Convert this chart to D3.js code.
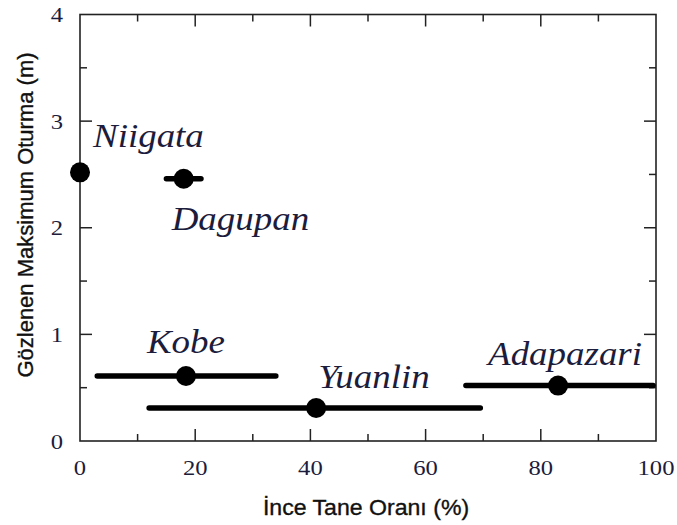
<!DOCTYPE html>
<html>
<head>
<meta charset="utf-8">
<script src="https://cdn.jsdelivr.net/npm/d3@7"></script>
<style>
  html, body { margin: 0; padding: 0; background: #fff; }
  svg { display: block; }
</style>
</head>
<body>
<svg id="chart" width="677" height="525"></svg>
<script>
// Sites and their observed maximum settlement vs fines content
const sites      = ["Niigata", "Dagupan", "Kobe", "Yuanlin", "Adapazari"];
const fines      = [0, 18, 18.4, 41, 83];          // representative fines content (%)
const finesLow   = [null, 15, 3, 12, 67];          // range lower bound (%)
const finesHigh  = [null, 21, 34, 69.5, 99.5];     // range upper bound (%)
const settlement = [2.52, 2.46, 0.61, 0.31, 0.52]; // observed max settlement (m)

const xTicks = [0, 20, 40, 60, 80, 100];
const yTicks = [0, 1, 2, 3, 4];

// label anchor offsets relative to each point (px)
const labelDx = [13, -12, -39, 2, -70];
const labelDy = [-25, 51, -23, -20, -21];

const svg = d3.select("#chart");
const margin = { left: 80, right: 21, top: 14.5, bottom: 84 };
const W = 677, H = 525;

const x = d3.scaleLinear().domain([0, 100]).range([margin.left, W - margin.right]);
const y = d3.scaleLinear().domain([0, 4]).range([H - margin.bottom, margin.top]);

const ink = "#1c1c3c";
const axisColor = "#222";
const serif = "'Liberation Serif', 'Times New Roman', serif";
const sans = "'Liberation Sans', Arial, sans-serif";
const stretch = 1.12; // slightly wide lettering

// frame
svg.append("rect")
  .attr("x", x(0)).attr("y", y(4))
  .attr("width", x(100) - x(0)).attr("height", y(0) - y(4))
  .attr("fill", "none").attr("stroke", axisColor).attr("stroke-width", 1.6);

// inward ticks on all four sides, minor ticks between majors
const xMinor = d3.range(10, 100, 20);
const yMinor = d3.range(0.5, 4, 1);
const major = 12, minor = 7;
const tickG = svg.append("g").attr("stroke", axisColor).attr("stroke-width", 1.5);
xTicks.slice(1, -1).forEach(v => {
  tickG.append("line").attr("x1", x(v)).attr("x2", x(v)).attr("y1", y(0)).attr("y2", y(0) - major);
  tickG.append("line").attr("x1", x(v)).attr("x2", x(v)).attr("y1", y(4)).attr("y2", y(4) + major);
});
xMinor.forEach(v => {
  tickG.append("line").attr("x1", x(v)).attr("x2", x(v)).attr("y1", y(0)).attr("y2", y(0) - minor);
  tickG.append("line").attr("x1", x(v)).attr("x2", x(v)).attr("y1", y(4)).attr("y2", y(4) + minor);
});
yTicks.slice(1, -1).forEach(v => {
  tickG.append("line").attr("y1", y(v)).attr("y2", y(v)).attr("x1", x(0)).attr("x2", x(0) + major);
  tickG.append("line").attr("y1", y(v)).attr("y2", y(v)).attr("x1", x(100)).attr("x2", x(100) - major);
});
yMinor.forEach(v => {
  tickG.append("line").attr("y1", y(v)).attr("y2", y(v)).attr("x1", x(0)).attr("x2", x(0) + minor);
  tickG.append("line").attr("y1", y(v)).attr("y2", y(v)).attr("x1", x(100)).attr("x2", x(100) - minor);
});

// tick labels
svg.append("g").selectAll("text").data(xTicks).join("text")
  .attr("transform", d => `translate(${x(d)},${y(0) + 34}) scale(${stretch},1)`)
  .attr("text-anchor", "middle")
  .attr("font-family", serif).attr("font-size", 22).attr("fill", ink)
  .text(d => d);
svg.append("g").selectAll("text").data(yTicks).join("text")
  .attr("transform", d => `translate(${x(0) - 17},${y(d) + 7.5}) scale(${stretch},1)`)
  .attr("text-anchor", "end")
  .attr("font-family", serif).attr("font-size", 22).attr("fill", ink)
  .text(d => d);

// axis titles
svg.append("text")
  .attr("transform", `translate(${(x(0) + x(100)) / 2 - 2},515) scale(1.05,1)`)
  .attr("text-anchor", "middle")
  .attr("font-family", sans).attr("font-size", 22)
  .attr("fill", "#111").attr("stroke", "#111").attr("stroke-width", 0.35)
  .text("İnce Tane Oranı (%)");
svg.append("text")
  .attr("transform", `translate(33, 215) rotate(-90)`)
  .attr("text-anchor", "middle")
  .attr("font-family", sans).attr("font-size", 22)
  .attr("fill", "#111").attr("stroke", "#111").attr("stroke-width", 0.35)
  .text("Gözlenen Maksimum Oturma (m)");

// range bars
const rows = sites.map((s, i) => ({
  site: s, f: fines[i], lo: finesLow[i], hi: finesHigh[i], s: settlement[i],
  dx: labelDx[i], dy: labelDy[i]
}));
svg.append("g").selectAll("line").data(rows.filter(d => d.lo != null)).join("line")
  .attr("x1", d => x(d.lo)).attr("x2", d => x(d.hi))
  .attr("y1", d => y(d.s)).attr("y2", d => y(d.s))
  .attr("stroke", "#000").attr("stroke-width", 5.5).attr("stroke-linecap", "round");

// points
svg.append("g").selectAll("circle").data(rows).join("circle")
  .attr("cx", d => x(d.f)).attr("cy", d => y(d.s))
  .attr("r", 10).attr("fill", "#000");

// site labels
svg.append("g").selectAll("text").data(rows).join("text")
  .attr("transform", d => `translate(${x(d.f) + d.dx},${y(d.s) + d.dy}) scale(${stretch},1)`)
  .attr("font-family", serif).attr("font-style", "italic")
  .attr("font-size", 33).attr("fill", ink)
  .text(d => d.site);
</script>
</body>
</html>
